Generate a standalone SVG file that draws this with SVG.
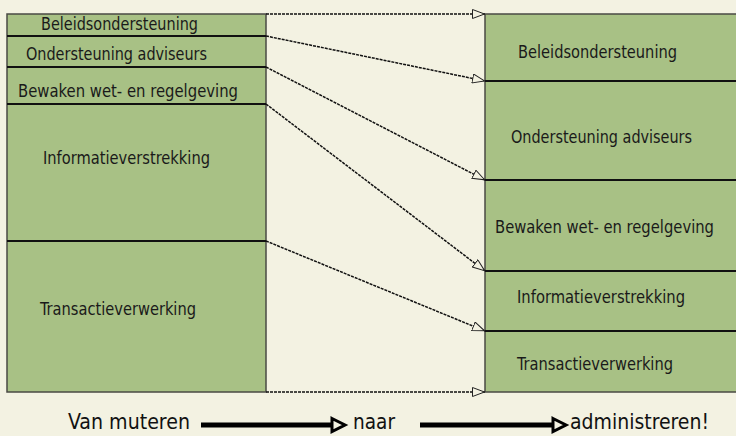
<svg xmlns="http://www.w3.org/2000/svg" width="736" height="436" viewBox="0 0 736 436">
<style>
.box{fill:#a8c185;stroke:#4a4a44;stroke-width:1.5}
.div{stroke:#111;stroke-width:2}
.t{font-family:"DejaVu Sans Condensed","DejaVu Sans",sans-serif;font-size:17px;fill:#1a1a1a}
.c{stroke:#111;stroke-width:1.5;stroke-dasharray:3 1;fill:none;marker-end:url(#oa)}
.big{font-family:"DejaVu Sans Condensed","DejaVu Sans",sans-serif;font-size:22px;fill:#111}
.ba{stroke:#000;stroke-width:5;fill:none}
.bh{fill:#f3f2e2;stroke:#000;stroke-width:3;stroke-linejoin:miter}
</style>
<defs>
<marker id="oa" viewBox="0 0 13 10" refX="13" refY="5" markerWidth="13" markerHeight="10" markerUnits="userSpaceOnUse" orient="auto">
<path d="M0.5,0.5 L12.5,5 L0.5,9.5 Z" fill="#f3f2e2" stroke="#222" stroke-width="1"/>
</marker>
</defs>
<rect width="736" height="436" fill="#f3f2e2"/>
<g id="left">
<rect class="box" x="7" y="14" width="259" height="378"/>
<line class="div" x1="7" y1="36" x2="266" y2="36"/>
<line class="div" x1="7" y1="67" x2="266" y2="67"/>
<line class="div" x1="7" y1="104" x2="266" y2="104"/>
<line class="div" x1="7" y1="241" x2="266" y2="241"/>
<text class="t" x="41" y="30" textLength="157" lengthAdjust="spacingAndGlyphs">Beleidsondersteuning</text>
<text class="t" x="26" y="60" textLength="181" lengthAdjust="spacingAndGlyphs">Ondersteuning adviseurs</text>
<text class="t" x="18" y="97" textLength="220" lengthAdjust="spacingAndGlyphs">Bewaken wet- en regelgeving</text>
<text class="t" x="43" y="164" textLength="167" lengthAdjust="spacingAndGlyphs">Informatieverstrekking</text>
<text class="t" x="40" y="315" textLength="156" lengthAdjust="spacingAndGlyphs">Transactieverwerking</text>
</g>
<g id="right">
<rect class="box" x="485" y="14" width="253" height="378"/>
<line class="div" x1="485" y1="81" x2="736" y2="81"/>
<line class="div" x1="485" y1="180" x2="736" y2="180"/>
<line class="div" x1="485" y1="271" x2="736" y2="271"/>
<line class="div" x1="485" y1="331" x2="736" y2="331"/>
<text class="t" x="518" y="58" textLength="159" lengthAdjust="spacingAndGlyphs">Beleidsondersteuning</text>
<text class="t" x="511" y="143" textLength="181" lengthAdjust="spacingAndGlyphs">Ondersteuning adviseurs</text>
<text class="t" x="495" y="233" textLength="219" lengthAdjust="spacingAndGlyphs">Bewaken wet- en regelgeving</text>
<text class="t" x="517" y="303" textLength="168" lengthAdjust="spacingAndGlyphs">Informatieverstrekking</text>
<text class="t" x="517" y="370" textLength="156" lengthAdjust="spacingAndGlyphs">Transactieverwerking</text>
</g>
<g id="connectors">
<line class="c" x1="266" y1="14" x2="485" y2="14"/>
<line class="c" x1="266" y1="36" x2="485" y2="81"/>
<line class="c" x1="266" y1="67" x2="485" y2="180"/>
<line class="c" x1="266" y1="104" x2="485" y2="271"/>
<line class="c" x1="266" y1="241" x2="485" y2="331"/>
<line class="c" x1="266" y1="392" x2="485" y2="392"/>
</g>
<g id="caption">
<text class="big" x="68" y="429" textLength="122" lengthAdjust="spacingAndGlyphs">Van muteren</text>
<line class="ba" x1="201" y1="425" x2="332" y2="425"/>
<path class="bh" d="M332,418.5 L345,425 L332,431.5 Z"/>
<text class="big" x="353" y="429" textLength="42" lengthAdjust="spacingAndGlyphs">naar</text>
<line class="ba" x1="420" y1="425" x2="553" y2="425"/>
<path class="bh" d="M553,418.5 L566,425 L553,431.5 Z"/>
<text class="big" x="570" y="429" textLength="139" lengthAdjust="spacingAndGlyphs">administreren!</text>
</g>
</svg>
